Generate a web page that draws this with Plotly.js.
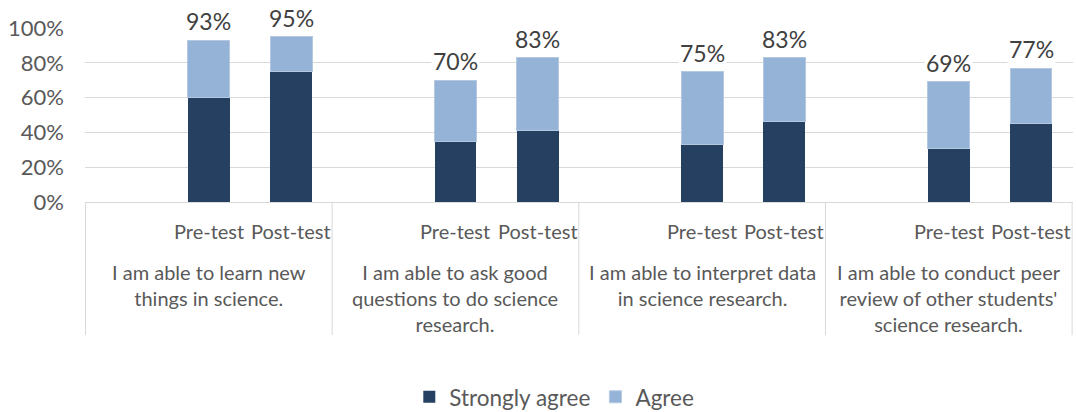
<!DOCTYPE html>
<html>
<head>
<meta charset="utf-8">
<script src="https://cdn.plot.ly/plotly-3.0.1.min.js"></script>
<style>html,body{margin:0;padding:0;background:#fff;}#chart{width:1076px;height:412px;}</style>
</head>
<body>
<div id="chart"></div>
<script>
// ---- data ----
var statements = [
  "I am able to learn new<br>things in science.",
  "I am able to ask good<br>questions to do science<br>research.",
  "I am able to interpret data<br>in science research.",
  "I am able to conduct peer<br>review of other students'<br>science research."
];
var tests = [" ", "Pre-test", "Post-test"];
var stronglyAgree = [null, 0.60, 0.75, null, 0.35, 0.41, null, 0.33, 0.46, null, 0.31, 0.45];
var agree         = [null, 0.33, 0.20, null, 0.35, 0.42, null, 0.42, 0.37, null, 0.38, 0.32];
var totals        = [null, 0.93, 0.95, null, 0.70, 0.83, null, 0.75, 0.83, null, 0.69, 0.77];

// multicategory x built from the arrays
var xGroup = [], xSub = [];
statements.forEach(function (s) { tests.forEach(function (t) { xGroup.push(s); xSub.push(t); }); });
var x = [xGroup, xSub];

var fontFam = "Lato, 'Open Sans', sans-serif";
var grey = "#595959";
var lineGrey = "#d9d9d9";

var traces = [
  {type: "bar", name: "Strongly agree", x: x, y: stronglyAgree, marker: {color: "#264061"}, hoverinfo: "skip"},
  {type: "bar", name: "Agree", x: x, y: agree, marker: {color: "#95B3D7", line: {color: "#B4C8E2", width: 1}}, hoverinfo: "skip"}
];

var annotations = [];
var shapes = [];
// total labels above the bars
totals.forEach(function (v, i) {
  if (v === null) return;
  annotations.push({
    xref: "x", yref: "y", x: i, y: v, yanchor: "bottom", yshift: 3,
    text: Math.round(v * 100) + "%", showarrow: false, bgcolor: "#ffffff",
    font: {family: fontFam, size: 23, color: "#404040"}
  });
});
// axis category labels (two levels) and group dividers
xSub.forEach(function (t, i) {
  if (t.trim() === "") return;
  annotations.push({xref: "x", yref: "paper", x: i, y: -0.167, yanchor: "middle", showarrow: false,
                    text: t, font: {family: fontFam, size: 20, color: grey}});
});
statements.forEach(function (s, g) {
  var n = tests.length;
  annotations.push({xref: "x", yref: "paper", x: g * n + (n - 1) / 2, y: -0.322, yanchor: "top",
                    showarrow: false, text: s, align: "center",
                    font: {family: fontFam, size: 20, color: grey}});
  shapes.push({type: "line", xref: "x", yref: "paper", x0: g * n - 0.5, x1: g * n - 0.5, y0: 0, y1: -0.765,
               line: {color: lineGrey, width: 1}});
});
shapes.push({type: "line", xref: "x", yref: "paper", x0: xSub.length - 0.5, x1: xSub.length - 0.5, y0: 0, y1: -0.765,
             line: {color: lineGrey, width: 1}});

var layout = {
  width: 1076, height: 412,
  margin: {l: 85, r: 3, t: 28, b: 210},
  paper_bgcolor: "#ffffff", plot_bgcolor: "#ffffff",
  barmode: "stack", bargap: 0.49,
  font: {family: fontFam, size: 20, color: grey},
  showlegend: true,
  legend: {orientation: "h", x: 0.475, xanchor: "center", yref: "container", y: 0.036, yanchor: "middle",
           itemwidth: 30,
           font: {family: fontFam, size: 22.5, color: grey}, traceorder: "normal"},
  xaxis: {type: "multicategory", showgrid: false, showline: true, linecolor: lineGrey, linewidth: 1,
          ticks: "", showticklabels: false, showdividers: false, automargin: false, fixedrange: true},
  yaxis: {range: [0, 1], dtick: 0.2, tickformat: ".0%", showgrid: true, gridcolor: lineGrey,
          zeroline: false, showline: false, ticks: "", ticklabelstandoff: 20, automargin: false,
          tickfont: {family: fontFam, size: 22, color: grey}, fixedrange: true},
  annotations: annotations,
  shapes: shapes
};

Plotly.newPlot("chart", traces, layout, {displayModeBar: false, staticPlot: true});
</script>
</body>
</html>
